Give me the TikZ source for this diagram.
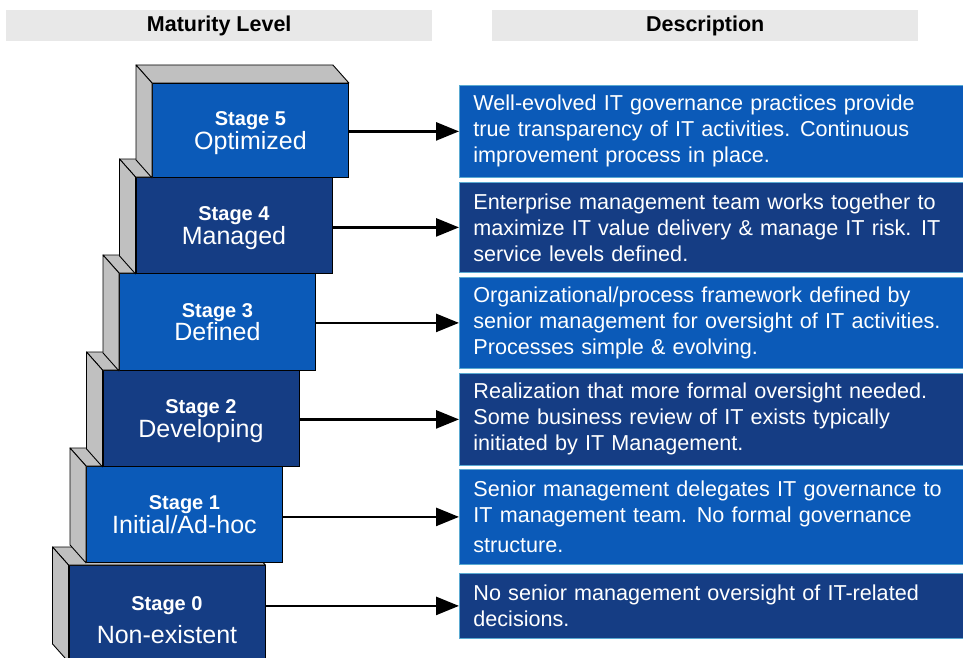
\documentclass[tikz,border=0pt]{standalone}
\usepackage{fontspec}
\setmainfont{Liberation Sans}
\usetikzlibrary{arrows.meta,calc}
\definecolor{bbright}{HTML}{0B5AB8}
\definecolor{bdark}{HTML}{153D84}
\definecolor{sidegray}{HTML}{C0C0C0}
\definecolor{hdrgray}{HTML}{E8E8E8}
\definecolor{edgeblue}{HTML}{5AAAD2}
\newcommand{\stageblock}[6]{%
  \node[front, fill=#5, minimum height=#4pt] (#1) at (#2,#3) {#6};
  \filldraw[side] (#1.north west) -- ++(-16,-18) -- ($(#1.north east)+(-16,-18)$) -- (#1.north east) -- cycle;
  \filldraw[side] (#1.north west) -- ++(-16,-18) -- ($(#1.south west)+(-16,-18)$) -- (#1.south west) -- cycle;
}
\newcommand{\stl}[2]{{\bfseries\fontsize{20}{25}\selectfont #1}\\{\fontsize{25}{25}\selectfont #2}}
\newcommand{\dsp}{\hspace{0.45em}}
\begin{document}
\begin{tikzpicture}[x=1pt,y=-1pt,
  front/.style={draw=black, line width=0.9pt, minimum width=196pt, inner sep=0pt, anchor=north west, text=white, align=center, text depth=0pt},
  side/.style={fill=sidegray, draw=black, line width=0.9pt, line join=round},
  desc/.style={draw=edgeblue, line width=0.8pt, anchor=north west, text=white, align=left, text width=500pt, inner xsep=14pt, inner ysep=0pt, font=\fontsize{21.6}{26}\selectfont},
  hdr/.style={fill=hdrgray, anchor=north west, minimum width=426pt, minimum height=31pt, inner sep=0pt, font=\bfseries\fontsize{21.5}{24}\selectfont},
  conn/.style={line width=2.6pt, -{Triangle[length=23pt,width=18pt]}},
]
\useasboundingbox (0,0) rectangle (963,658);

\node[hdr] (h1) at (6,10) {Maturity Level};
\node[hdr] (h2) at (492,10) {Description};

\stageblock{s0}{68.5}{565}{96}{bdark}{{\bfseries\fontsize{20}{25}\selectfont\rule{0pt}{27pt}Stage 0}\\[9pt]{\fontsize{25}{25}\selectfont Non-existent}}
\stageblock{s1}{86}{466}{96}{bbright}{\stl{Stage 1}{Initial/Ad-hoc}}
\stageblock{s2}{102.5}{370}{96}{bdark}{\stl{Stage 2}{Developing}}
\stageblock{s3}{119}{273}{97}{bbright}{\stl{Stage 3}{Defined}}
\stageblock{s4}{135.5}{177}{96}{bdark}{\stl{Stage 4}{Managed}}
\stageblock{s5}{152}{83}{94}{bbright}{\stl{Stage 5}{Optimized}}

\node[desc, fill=bbright, minimum height=92pt] (d5) at (459,85) {Well-evolved IT governance practices provide\\true transparency of IT activities.\dsp Continuous\\improvement process in place.};
\node[desc, fill=bdark, minimum height=90pt] (d4) at (459,182) {Enterprise management team works together to\\maximize IT value delivery \& manage IT risk.\dsp IT\\service levels defined.};
\node[desc, fill=bbright, minimum height=91pt] (d3) at (459,277) {Organizational/process framework defined by\\senior management for oversight of IT activities.\\Processes simple \& evolving.};
\node[desc, fill=bdark, minimum height=92pt] (d2) at (459,373) {Realization that more formal oversight needed.\\Some business review of IT exists typically\\initiated by IT Management.};
\node[desc, fill=bbright, minimum height=95pt] (d1) at (459,469) {Senior management delegates IT governance to\\IT management team.\dsp No formal governance\\[4pt]structure.};
\node[desc, fill=bdark, minimum height=65pt] (d0) at (459,573) {No senior management oversight of IT-related\\decisions.};

\foreach \k in {0,...,5}{
  \draw[conn] (d\k.west -| s\k.east) -- (d\k.west);
}
\end{tikzpicture}
\end{document}
